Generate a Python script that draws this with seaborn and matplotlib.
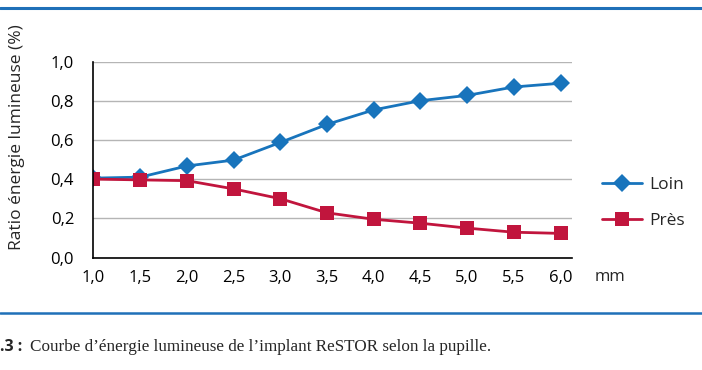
import matplotlib
matplotlib.use("Agg")
import matplotlib.pyplot as plt
import seaborn as sns
import pandas as pd
from matplotlib.lines import Line2D

# Data
pupil_mm = [1.0, 1.5, 2.0, 2.5, 3.0, 3.5, 4.0, 4.5, 5.0, 5.5, 6.0]
loin = [0.405, 0.41, 0.467, 0.497, 0.587, 0.679, 0.753, 0.80, 0.827, 0.870, 0.889]
pres = [0.40, 0.396, 0.392, 0.350, 0.300, 0.228, 0.195, 0.175, 0.150, 0.129, 0.123]
series_names = ["Loin", "Près"]
x_tick_labels = ["1,0", "1,5", "2,0", "2,5", "3,0", "3,5", "4,0", "4,5", "5,0", "5,5", "6,0"]
y_ticks = [0.0, 0.2, 0.4, 0.6, 0.8, 1.0]
y_tick_labels = ["0,0", "0,2", "0,4", "0,6", "0,8", "1,0"]

df = pd.DataFrame({
    "mm": pupil_mm * 2,
    "ratio": loin + pres,
    "serie": [series_names[0]] * len(pupil_mm) + [series_names[1]] * len(pupil_mm),
})

sns.set_theme(style="white")
plt.rcParams["font.family"] = ["Open Sans", "DejaVu Sans"]

BLUE = "#1874bc"
RED = "#c1153d"
palette = {"Loin": BLUE, "Près": RED}

fig = plt.figure(figsize=(7.02, 3.70), dpi=100)
ax = fig.add_axes([93.5 / 702, 1 - 257.5 / 370, (572 - 93.5) / 702, (257.5 - 61.5) / 370])

sns.lineplot(data=df, x="mm", y="ratio", hue="serie", style="serie",
             markers={"Loin": "D", "Près": "s"}, dashes=False, palette=palette,
             markersize=9.5, markeredgewidth=0, linewidth=2, ax=ax, legend=False)

ax.set_xlim(1.0, 1.0 + (572 - 93.5) / 93.4)
ax.set_ylim(0, 1.0)
ax.set_xticks(pupil_mm)
ax.set_xticklabels(x_tick_labels)
ax.set_yticks(y_ticks)
ax.set_yticklabels(y_tick_labels)
ax.tick_params(axis="both", length=0, labelsize=12, colors="black")
ax.tick_params(axis="x", pad=9)
ax.tick_params(axis="y", pad=14)
ax.yaxis.grid(True, color="#b5b5b5", linewidth=1)
ax.xaxis.grid(False)
ax.set_axisbelow(True)
for s in ["top", "right"]:
    ax.spines[s].set_visible(False)
for s in ["left", "bottom"]:
    ax.spines[s].set_color("black")
    ax.spines[s].set_linewidth(1.2)
ax.set_xlabel("")
ax.set_ylabel("Ratio énergie lumineuse (%)", fontsize=12.5)
ax.yaxis.set_label_coords((25 - 93.5) / (572 - 93.5), (257.5 - 137) / 196)

fig.text(610 / 702, 1 - 277 / 370, "mm", fontsize=12, va="center", ha="center")

handles = [
    Line2D([], [], color=BLUE, marker="D", markersize=9.5, markeredgewidth=0, linewidth=2),
    Line2D([], [], color=RED, marker="s", markersize=9.5, markeredgewidth=0, linewidth=2),
]
fig.legend(handles, series_names, loc="center left",
           bbox_to_anchor=(586 / 702, 1 - 203 / 370), frameon=False,
           fontsize=12.5, handlelength=2.3, labelspacing=1.15, handletextpad=0.45)

# top and bottom rules
fig.add_artist(Line2D([0, 1], [1 - 8 / 370, 1 - 8 / 370], transform=fig.transFigure,
                      color="#1f70b8", linewidth=2.2))
fig.add_artist(Line2D([0, 1], [1 - 313 / 370, 1 - 313 / 370], transform=fig.transFigure,
                      color="#1f70b8", linewidth=1.8))

fig.text(0 / 702, 1 - 347 / 370, ".3 :", fontsize=11.5, fontweight="bold", va="center", ha="left")
fig.text(30 / 702, 1 - 347 / 370,
         "Courbe d’énergie lumineuse de l’implant ReSTOR selon la pupille.",
         fontsize=12.3, va="center", ha="left", family=["Liberation Serif", "DejaVu Serif"])

fig.savefig("out.png", dpi=100)
